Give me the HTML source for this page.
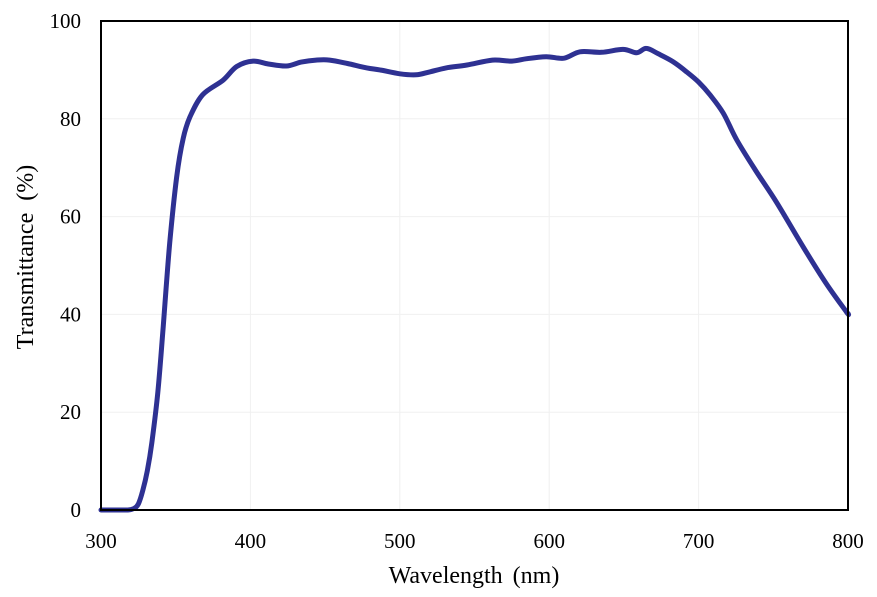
<!DOCTYPE html>
<html><head><meta charset="utf-8"><style>
html,body{margin:0;padding:0;background:#fff;}
svg{display:block;font-family:"Liberation Serif",serif;}
</style></head><body>
<svg width="877" height="597" viewBox="0 0 877 597">
<g id="grid"></g>
<g id="ticks"></g>
<path id="curve" fill="none" stroke="#2e3192" stroke-width="5" stroke-linejoin="round" stroke-linecap="round"/>
<rect x="101" y="21" width="747" height="489" fill="none" stroke="#000" stroke-width="2"/>
<text x="474" y="583" text-anchor="middle" font-size="24" word-spacing="4">Wavelength (nm)</text>
<text transform="translate(33,257) rotate(-90)" text-anchor="middle" font-size="24" word-spacing="6">Transmittance (%)</text>
</svg>
<script>
const wavelengths=[300,310,318,322,325,328,331,334,338,341.6,346,350.6,355,359.6,368,381.7,390.8,401.8,412,424,434,444,453,465,478,486.7,500,511,520,531,545,562,575,585,598,610,620.6,635,649.4,658.5,665,673,682.8,692,700,707.6,716.4,725.5,738,752,770,785,799,800];
const transmittance=[0,0,0,0.3,1.2,4,8,13.7,24,37.4,54.6,68,76,80.4,84.9,87.9,90.7,91.8,91.2,90.8,91.6,92,92,91.3,90.4,90,89.2,89,89.6,90.4,91,92,91.8,92.3,92.7,92.4,93.7,93.6,94.2,93.5,94.4,93.3,91.7,89.6,87.5,84.9,81.2,75.7,69.5,63,53.8,46.5,40.5,40.2];
const xTicks=[300,400,500,600,700,800];
const yTicks=[0,20,40,60,80,100];
const X0=101,X1=848,Y0=510,Y1=21;
const xs=v=>X0+(v-300)/500*(X1-X0);
const ys=v=>Y0-v/100*(Y0-Y1);
const NS="http://www.w3.org/2000/svg";
const grid=document.getElementById('grid'),ticks=document.getElementById('ticks');
xTicks.forEach(t=>{
  const l=document.createElementNS(NS,'line');
  
  
  l.setAttribute('x1',xs(t));l.setAttribute('x2',xs(t));l.setAttribute('y1',Y1);l.setAttribute('y2',Y0);
  l.setAttribute('stroke','#f0f0f0');l.setAttribute('stroke-width','1');grid.appendChild(l);
  const tx=document.createElementNS(NS,'text');
  
  
  tx.setAttribute('x',xs(t));tx.setAttribute('y',548);tx.setAttribute('text-anchor','middle');tx.setAttribute('font-size','21');
  tx.textContent=t;ticks.appendChild(tx);
});
yTicks.forEach(t=>{
  const l=document.createElementNS(NS,'line');
  
  
  l.setAttribute('x1',X0);l.setAttribute('x2',X1);l.setAttribute('y1',ys(t));l.setAttribute('y2',ys(t));
  l.setAttribute('stroke','#f0f0f0');l.setAttribute('stroke-width','1');grid.appendChild(l);
  const tx=document.createElementNS(NS,'text');
  
  
  tx.setAttribute('x',81);tx.setAttribute('y',ys(t)+7);tx.setAttribute('text-anchor','end');tx.setAttribute('font-size','21');
  tx.textContent=t;ticks.appendChild(tx);
});
const pts=wavelengths.map((w,i)=>[xs(w),ys(transmittance[i])]);
let d='M'+pts[0][0].toFixed(1)+','+pts[0][1].toFixed(1);
for(let i=0;i<pts.length-1;i++){
  const p0=pts[Math.max(0,i-1)],p1=pts[i],p2=pts[i+1],p3=pts[Math.min(pts.length-1,i+2)];
  const c1=[p1[0]+(p2[0]-p0[0])/6,p1[1]+(p2[1]-p0[1])/6];
  const c2=[p2[0]-(p3[0]-p1[0])/6,p2[1]-(p3[1]-p1[1])/6];
  d+='C'+c1[0].toFixed(1)+','+Math.min(Y0,c1[1]).toFixed(1)+' '+c2[0].toFixed(1)+','+Math.min(Y0,c2[1]).toFixed(1)+' '+p2[0].toFixed(1)+','+p2[1].toFixed(1);
}
document.getElementById('curve').setAttribute('d',d);
</script>
</body></html>
